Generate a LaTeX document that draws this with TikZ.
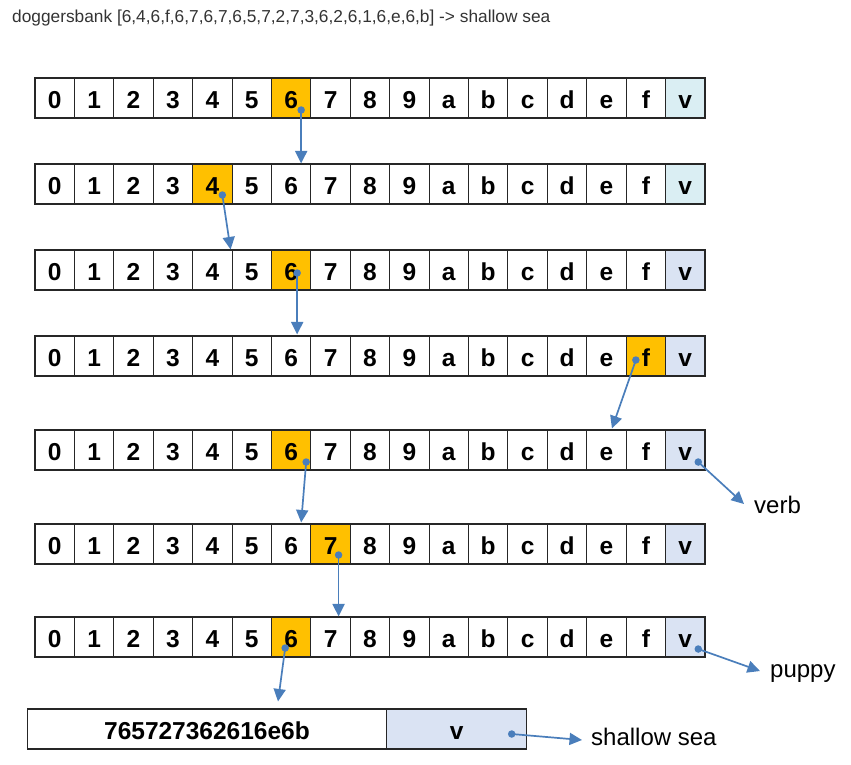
\documentclass[tikz,border=0pt]{standalone}
\usepackage{fontspec}
\setmainfont{Liberation Sans}
\usetikzlibrary{arrows.meta,calc}
\definecolor{hl}{HTML}{FFC000}
\definecolor{vcyan}{HTML}{DAEEF3}
\definecolor{vblue}{HTML}{DAE3F3}
\definecolor{arr}{HTML}{4A7EBB}
\definecolor{ttl}{HTML}{333333}
\tikzset{
  cell/.style={draw=black!85, line width=1.1pt, minimum width=39.41pt, minimum height=40pt,
    inner sep=0pt, font=\fontsize{24.5}{28}\selectfont\bfseries, text height=20.6pt, text depth=0pt},
  link/.style={draw=arr, line width=1.7pt, -{Triangle[length=12.5pt,width=12pt]}},
  dotc/.style={fill=arr, circle, inner sep=0pt, minimum size=7.5pt},
  lbl/.style={font=\fontsize{24}{28}\selectfont, inner sep=0pt, anchor=base west},
}
\begin{document}
\begin{tikzpicture}[x=1pt,y=-1pt]
\useasboundingbox (0,0) rectangle (851,764);
\node[anchor=base west, inner sep=0pt, text=ttl, font=\fontsize{17.3}{20}\selectfont] (title) at (12,22.7)
  {doggersbank [6,4,6,f,6,7,6,7,6,5,7,2,7,3,6,2,6,1,6,e,6,b] -> shallow sea};
\foreach \rw/\ty/\hi/\vc in {1/78/6/vcyan, 2/164/4/vcyan, 3/250/6/vblue, 4/336/15/vblue,
                             5/430/6/vblue, 6/524/7/vblue, 7/617/6/vblue} {
  \foreach \lab [count=\i from 0] in {0,1,2,3,4,5,6,7,8,9,a,b,c,d,e,f,v} {
    \ifnum\i=\hi \def\fc{hl}\else\ifnum\i=16 \def\fc{\vc}\else\def\fc{white}\fi\fi
    \node[cell, fill=\fc] (r\rw c\i) at ({35+(\i+0.5)*39.41}, {\ty+20}) {\lab};
  }
}
\node[cell, minimum width=359.4pt] (hex) at (207,729) {765727362616e6b};
\node[cell, fill=vblue, minimum width=140pt] (bv) at (456.7,729) {v};
\node[lbl] (verb) at (754,513) {verb};
\node[lbl] (puppy) at (770,677) {puppy};
\node[lbl] (sea) at (591,745.7) {shallow sea};
% arrows
\node[dotc] (d1) at ($(r1c6.center)+(10,12)$) {};
\draw[link] (d1.center) -- ($(r2c6.north)+(10,0)$);
\node[dotc] (d2) at ($(r2c4.center)+(10,11)$) {};
\draw[link] (d2.center) -- ($(r3c4.north east)+(-2,0)$);
\node[dotc] (d3) at ($(r3c6.center)+(6,3)$) {};
\draw[link] (d3.center) -- ($(r4c6.north)+(6,-1)$);
\node[dotc] (d4) at ($(r4c15.center)+(-10,4)$) {};
\draw[link] (d4.center) -- ($(r5c14.north)+(5.5,-1)$);
\node[dotc] (d5) at ($(r5c16.center)+(13,12)$) {};
\draw[link] (d5.center) -- ($(verb.base west)+(-10,-9)$);
\node[dotc] (d6) at ($(r5c6.center)+(15,12)$) {};
\draw[link] (d6.center) -- ($(r6c6.north)+(10,-1)$);
\node[dotc] (d7) at ($(r6c7.center)+(8,11)$) {};
\draw[link] (d7.center) -- ($(r7c7.north)+(8,0)$);
\node[dotc] (d8) at ($(r7c6.center)+(-6,11)$) {};
\draw[link] (d8.center) -- ($(hex.north)+(71,-7)$);
\node[dotc] (d9) at ($(r7c16.center)+(13,12)$) {};
\draw[link] (d9.center) -- ($(puppy.base west)+(-10,-6)$);
\node[dotc] (d10) at ($(bv.center)+(55,5)$) {};
\draw[link] (d10.center) -- ($(sea.base west)+(-9,-5.7)$);
\end{tikzpicture}
\end{document}
